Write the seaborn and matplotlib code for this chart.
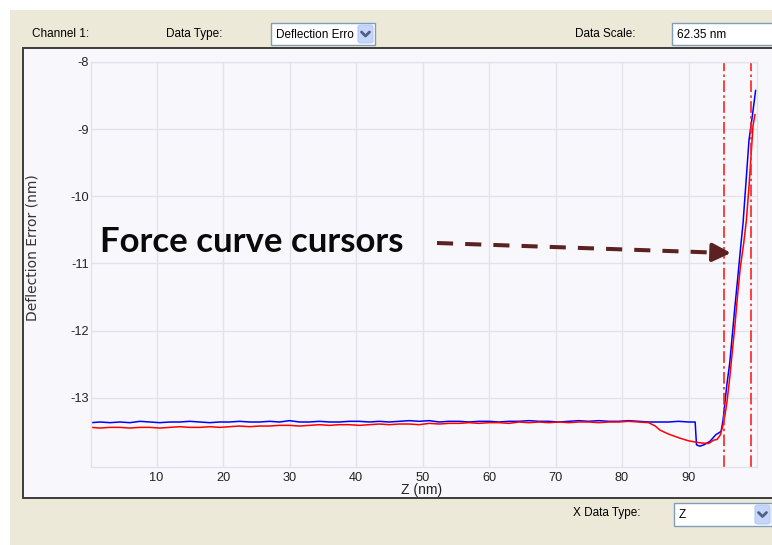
import matplotlib
matplotlib.use('Agg')
import matplotlib.pyplot as plt
from matplotlib.patches import Rectangle, FancyBboxPatch
from matplotlib.lines import Line2D
import pandas as pd
import seaborn as sns

# ── data ─────────────────────────────────────────────────────────────────────
blue_z = [0.2, 1.5, 3, 4.5, 6, 7.5, 9, 10.5, 12, 13.5, 15, 16.5, 18, 19.5, 21,
          22.5, 24, 25.5, 27, 28.5, 30, 31.5, 33, 34.5, 36, 37.5, 39, 40.5, 42,
          43.5, 45, 46.5, 48, 49.5, 51, 52.5, 54, 55.5, 57, 58.5, 60, 61.5, 63,
          64.5, 66, 67.5, 69, 70.5, 72, 73.5, 75, 76.5, 78, 79.5, 81, 82.5, 84,
          85.5, 87, 88.5, 90, 91.0, 91.2, 91.7, 92.3, 93.2, 94.1, 94.9, 95.2,
          95.5, 95.8, 96.2, 96.6, 97.0, 97.4, 97.8, 98.2, 98.6, 99.1, 99.6, 100.1]
blue_defl = [-13.37, -13.36, -13.37, -13.36, -13.37, -13.35, -13.36, -13.37,
             -13.36, -13.36, -13.35, -13.36, -13.37, -13.36, -13.36, -13.35,
             -13.36, -13.36, -13.35, -13.36, -13.34, -13.36, -13.36, -13.35,
             -13.36, -13.36, -13.35, -13.35, -13.36, -13.35, -13.36, -13.35,
             -13.34, -13.35, -13.34, -13.36, -13.35, -13.35, -13.36, -13.35,
             -13.35, -13.36, -13.35, -13.35, -13.34, -13.35, -13.35, -13.36,
             -13.35, -13.34, -13.35, -13.34, -13.35, -13.35, -13.34, -13.35,
             -13.36, -13.36, -13.36, -13.35, -13.36, -13.36, -13.70, -13.72,
             -13.70, -13.65, -13.55, -13.50, -13.33, -13.05, -12.78, -12.48,
             -12.05, -11.62, -11.22, -10.80, -10.40, -9.85, -9.16, -8.80, -8.42]

red_z = [0.2, 1.5, 3, 4.5, 6, 7.5, 9, 10.5, 12, 13.5, 15, 16.5, 18, 19.5, 21,
         22.5, 24, 25.5, 27, 28.5, 30, 31.5, 33, 34.5, 36, 37.5, 39, 40.5, 42,
         43.5, 45, 46.5, 48, 49.5, 51, 52.5, 54, 55.5, 57, 58.5, 60, 61.5, 63,
         64.5, 66, 67.5, 69, 70.5, 72, 73.5, 75, 76.5, 78, 79.5, 81, 82.5, 84,
         85.0, 85.7, 87.0, 88.7, 90.0, 91.7, 93.0, 93.8, 94.3, 94.8, 95.2, 95.5,
         95.8, 96.2, 96.6, 97.0, 97.4, 97.8, 98.3, 98.7, 99.1, 99.4, 99.7, 100.0]
red_defl = [-13.44, -13.45, -13.44, -13.44, -13.45, -13.44, -13.44, -13.45,
            -13.44, -13.43, -13.44, -13.44, -13.43, -13.44, -13.43, -13.42,
            -13.43, -13.42, -13.42, -13.41, -13.41, -13.42, -13.41, -13.40,
            -13.41, -13.40, -13.40, -13.41, -13.40, -13.39, -13.40, -13.39,
            -13.39, -13.40, -13.38, -13.39, -13.38, -13.38, -13.37, -13.38,
            -13.37, -13.37, -13.38, -13.36, -13.37, -13.36, -13.37, -13.36,
            -13.37, -13.36, -13.36, -13.37, -13.36, -13.36, -13.35, -13.36,
            -13.37, -13.42, -13.48, -13.54, -13.60, -13.64, -13.67, -13.68,
            -13.63, -13.62, -13.55, -13.40, -13.25, -13.05, -12.70, -12.30,
            -11.90, -11.45, -11.05, -10.70, -10.36, -9.85, -9.40, -8.95, -8.78]

cursor_z = [95.4, 99.4]
x_ticks = [10, 20, 30, 40, 50, 60, 70, 80, 90]
y_ticks = [-13, -12, -11, -10, -9, -8]

# ── helpers: screenshot pixels -> figure fraction ────────────────────────────
W, H = 772, 545
def fx(x):
    return x / W
def fy(y):
    return 1 - y / H

GRID = '#E2E2EA'
PANEL = '#F8F8FC'
BEIGE = '#ECE9D8'
UI_SIZE = 8.5

sns.set_style('whitegrid', rc={'axes.facecolor': PANEL, 'grid.color': GRID,
                                'axes.edgecolor': GRID})
plt.rcParams['font.family'] = ['Liberation Sans', 'DejaVu Sans']
plt.rcParams['axes.unicode_minus'] = False

fig = plt.figure(figsize=(W / 100, H / 100), dpi=100)
fig.patch.set_facecolor('white')

# window chrome
fig.patches.append(Rectangle((fx(10), 0), 1 - fx(10), fy(10), transform=fig.transFigure,
                             facecolor=BEIGE, edgecolor='none', zorder=0))
fig.patches.append(Rectangle((fx(23), fy(498)), 1.02 - fx(23), fy(47.5) - fy(498),
                             transform=fig.transFigure, facecolor=PANEL,
                             edgecolor='#3C3C3C', linewidth=1.4, zorder=1))

def combo(x0, y0, x1, y1, text, button=True):
    fig.patches.append(Rectangle((fx(x0), fy(y1)), fx(x1) - fx(x0), fy(y0) - fy(y1),
                                 transform=fig.transFigure, facecolor='white',
                                 edgecolor='#7F9DB9', linewidth=1, zorder=2))
    fig.text(fx(x0 + 5), fy((y0 + y1) / 2 + 1), text, fontsize=UI_SIZE, va='center',
             ha='left', color='black', zorder=3)
    if button:
        bx0, bx1 = x1 - 17, x1 - 2
        fig.patches.append(FancyBboxPatch((fx(bx0), fy(y1 - 2)), fx(bx1) - fx(bx0),
                                          fy(y0 + 2) - fy(y1 - 2),
                                          boxstyle='round,pad=0,rounding_size=0.004',
                                          transform=fig.transFigure,
                                          facecolor='#C6D6FA', edgecolor='#B4C8F6',
                                          linewidth=0.8, zorder=3))
        cx, cy = (bx0 + bx1) / 2, (y0 + y1) / 2
        fig.lines.append(Line2D([fx(cx - 4), fx(cx), fx(cx + 4)],
                                [fy(cy - 2), fy(cy + 2), fy(cy - 2)],
                                transform=fig.transFigure, color='#4D6185',
                                linewidth=2, zorder=4))

fig.text(fx(32), fy(34), 'Channel 1:', fontsize=UI_SIZE, va='center', color='black')
fig.text(fx(166), fy(34), 'Data Type:', fontsize=UI_SIZE, va='center', color='black')
combo(271, 23, 375, 45, 'Deflection Erro')
fig.text(fx(575), fy(34), 'Data Scale:', fontsize=UI_SIZE, va='center', color='black')
combo(672, 23, 790, 45, '62.35 nm', button=False)
fig.text(fx(573), fy(513), 'X Data Type:', fontsize=UI_SIZE, va='center', color='black')
combo(674, 503, 772, 526, 'Z')

# ── plot area ────────────────────────────────────────────────────────────────
ax = fig.add_axes([fx(91), fy(467), fx(757) - fx(91), fy(62) - fy(467)])
ax.set_zorder(5)

blue = pd.DataFrame({'z': blue_z, 'defl': blue_defl})
red = pd.DataFrame({'z': red_z, 'defl': red_defl})
sns.lineplot(data=blue, x='z', y='defl', color='#0000FF', linewidth=1.1,
             estimator=None, sort=False, ax=ax)
sns.lineplot(data=red, x='z', y='defl', color='#FF0000', linewidth=1.1,
             estimator=None, sort=False, ax=ax)

for cz in cursor_z:
    ax.axvline(cz, color='#FF2020', linewidth=1.2, linestyle=(0, (7, 2, 1.5, 2)))

ax.set_xlim(0.15, 100.3)
ax.set_ylim(-14.03, -8)
ax.set_xticks(x_ticks)
ax.set_yticks(y_ticks)
ax.tick_params(length=0, labelsize=9.2, colors='#222222')
ax.tick_params(axis='y', pad=1.5)
ax.tick_params(axis='x', pad=3.5)
ax.grid(True, color=GRID, linewidth=1)
for s in ax.spines.values():
    s.set_color(GRID)
    s.set_linewidth(1)
ax.set_xlabel('')
ax.set_ylabel('')

fig.text(fx(422), fy(490), 'Z (nm)', fontsize=10, ha='center', va='center',
         color='#222222', zorder=6)
fig.text(fx(33), fy(248), 'Deflection Error (nm)', fontsize=10, rotation=90,
         family=['DejaVu Sans'], ha='center', va='center', color='#333333', zorder=6)

# annotation: text + dashed arrow to the cursors
ax.text(fx(100), fy(252), 'Force curve cursors', transform=fig.transFigure,
        fontsize=25, fontweight='bold', family=['Lato', 'DejaVu Sans'],
        color='#0A0A0A', ha='left', va='baseline')
ax.add_line(Line2D([fx(437), fx(712)], [fy(243), fy(252.5)], transform=fig.transFigure,
                   color='#5C2222', linewidth=2.9, linestyle=(0, (4, 3)),
                   solid_capstyle='butt', dash_capstyle='butt'))
ax.annotate('', xy=(fx(731), fy(253)), xytext=(fx(712), fy(252.4)),
            xycoords='figure fraction', textcoords='figure fraction',
            arrowprops=dict(arrowstyle='-|>,head_length=1.1,head_width=0.55',
                            color='#5C2222', linewidth=2.9, shrinkA=0, shrinkB=0))

fig.savefig('out.png', dpi=100)
